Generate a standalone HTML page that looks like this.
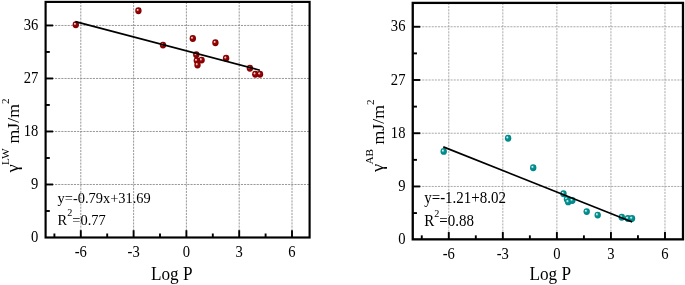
<!DOCTYPE html>
<html><head><meta charset="utf-8"><title>Surface energy vs Log P</title>
<style>
html,body{margin:0;padding:0;background:#fff;}
svg{display:block;}
text{font-family:"Liberation Serif", "Times New Roman", serif;fill:#000;}
.g{stroke-width:0.9;stroke-dasharray:2.1 1.05;}
.t{stroke:#000;stroke-width:1.9;}
.tl{font-size:17px;}
.al{font-size:18.8px;}
.yl{font-size:18.3px;}
.an{font-size:15.6px;}
.sup{font-size:11px;}
.sup2{font-size:11px;}
</style></head><body>
<svg width="685" height="285" viewBox="0 0 685 285">
<defs>
<radialGradient id="gr" cx="0.5" cy="0.5" r="0.6" fx="0.33" fy="0.34">
<stop offset="0" stop-color="#fff0f0"/><stop offset="0.16" stop-color="#dca8a8"/><stop offset="0.36" stop-color="#960808"/><stop offset="0.6" stop-color="#8b0000"/><stop offset="1" stop-color="#800000"/>
</radialGradient>
<radialGradient id="gt" cx="0.5" cy="0.5" r="0.6" fx="0.33" fy="0.34">
<stop offset="0" stop-color="#f0ffff"/><stop offset="0.16" stop-color="#a8dcdc"/><stop offset="0.36" stop-color="#089696"/><stop offset="0.6" stop-color="#008b8b"/><stop offset="1" stop-color="#008080"/>
</radialGradient>
</defs>
<rect width="685" height="285" fill="#fff"/>
<line class="g" stroke="#8c8c8c" x1="80.80" y1="1.90" x2="80.80" y2="237.50"/>
<line class="g" stroke="#8c8c8c" x1="133.60" y1="1.90" x2="133.60" y2="237.50"/>
<line class="g" stroke="#8c8c8c" x1="186.40" y1="1.90" x2="186.40" y2="237.50"/>
<line class="g" stroke="#8c8c8c" x1="239.20" y1="1.90" x2="239.20" y2="237.50"/>
<line class="g" stroke="#8c8c8c" x1="292.00" y1="1.90" x2="292.00" y2="237.50"/>
<line class="g" stroke="#8c8c8c" x1="45.60" y1="184.49" x2="309.60" y2="184.49"/>
<line class="g" stroke="#8c8c8c" x1="45.60" y1="131.48" x2="309.60" y2="131.48"/>
<line class="g" stroke="#8c8c8c" x1="45.60" y1="78.47" x2="309.60" y2="78.47"/>
<line class="g" stroke="#8c8c8c" x1="45.60" y1="25.46" x2="309.60" y2="25.46"/>
<ellipse cx="75.8" cy="24.7" rx="3.2" ry="3.45" fill="url(#gr)"/>
<ellipse cx="138.4" cy="10.7" rx="3.2" ry="3.45" fill="url(#gr)"/>
<ellipse cx="163" cy="45.1" rx="3.2" ry="3.45" fill="url(#gr)"/>
<ellipse cx="192.8" cy="38.5" rx="3.2" ry="3.45" fill="url(#gr)"/>
<ellipse cx="215.4" cy="42.7" rx="3.2" ry="3.45" fill="url(#gr)"/>
<ellipse cx="196.3" cy="54.8" rx="3.2" ry="3.45" fill="url(#gr)"/>
<ellipse cx="201.6" cy="60.1" rx="3.2" ry="3.45" fill="url(#gr)"/>
<ellipse cx="196.8" cy="60.6" rx="3.2" ry="3.45" fill="url(#gr)"/>
<ellipse cx="197.5" cy="65.0" rx="3.2" ry="3.45" fill="url(#gr)"/>
<ellipse cx="226.1" cy="58.3" rx="3.2" ry="3.45" fill="url(#gr)"/>
<ellipse cx="249.9" cy="68.2" rx="3.2" ry="3.45" fill="url(#gr)"/>
<ellipse cx="255.3" cy="74.2" rx="3.2" ry="3.45" fill="url(#gr)"/>
<ellipse cx="260.0" cy="74.2" rx="3.2" ry="3.45" fill="url(#gr)"/>
<line x1="75.4" y1="21.6" x2="259.9" y2="70.2" stroke="#000" stroke-width="1.7"/>
<line class="t" x1="80.80" y1="237.50" x2="80.80" y2="230.20"/>
<line class="t" x1="133.60" y1="237.50" x2="133.60" y2="230.20"/>
<line class="t" x1="186.40" y1="237.50" x2="186.40" y2="230.20"/>
<line class="t" x1="239.20" y1="237.50" x2="239.20" y2="230.20"/>
<line class="t" x1="292.00" y1="237.50" x2="292.00" y2="230.20"/>
<line class="t" x1="54.40" y1="237.50" x2="54.40" y2="233.50"/>
<line class="t" x1="107.20" y1="237.50" x2="107.20" y2="233.50"/>
<line class="t" x1="160.00" y1="237.50" x2="160.00" y2="233.50"/>
<line class="t" x1="212.80" y1="237.50" x2="212.80" y2="233.50"/>
<line class="t" x1="265.60" y1="237.50" x2="265.60" y2="233.50"/>
<line class="t" x1="45.60" y1="184.49" x2="53.10" y2="184.49"/>
<line class="t" x1="45.60" y1="131.48" x2="53.10" y2="131.48"/>
<line class="t" x1="45.60" y1="78.47" x2="53.10" y2="78.47"/>
<line class="t" x1="45.60" y1="25.46" x2="53.10" y2="25.46"/>
<line class="t" x1="45.60" y1="211.00" x2="49.80" y2="211.00"/>
<line class="t" x1="45.60" y1="157.99" x2="49.80" y2="157.99"/>
<line class="t" x1="45.60" y1="104.97" x2="49.80" y2="104.97"/>
<line class="t" x1="45.60" y1="51.97" x2="49.80" y2="51.97"/>
<rect x="45.60" y="1.90" width="264.00" height="235.60" fill="none" stroke="#000" stroke-width="2.15"/>
<text class="tl" text-anchor="middle" transform="translate(80.80,257.00) scale(0.86,1)">-6</text>
<text class="tl" text-anchor="middle" transform="translate(133.60,257.00) scale(0.86,1)">-3</text>
<text class="tl" text-anchor="middle" transform="translate(186.40,257.00) scale(0.86,1)">0</text>
<text class="tl" text-anchor="middle" transform="translate(239.20,257.00) scale(0.86,1)">3</text>
<text class="tl" text-anchor="middle" transform="translate(292.00,257.00) scale(0.86,1)">6</text>
<text class="tl" text-anchor="end" transform="translate(38.30,242.20) scale(0.86,1)">0</text>
<text class="tl" text-anchor="end" transform="translate(38.30,189.19) scale(0.86,1)">9</text>
<text class="tl" text-anchor="end" transform="translate(38.30,136.18) scale(0.86,1)">18</text>
<text class="tl" text-anchor="end" transform="translate(38.30,83.17) scale(0.86,1)">27</text>
<text class="tl" text-anchor="end" transform="translate(38.30,30.16) scale(0.86,1)">36</text>
<text class="al" text-anchor="middle" transform="translate(171.8,280.3) scale(0.915,1)">Log P</text>
<text style="font-size:17.0px" transform="translate(18.10,172.40) rotate(-90) scale(1.1,1)">&#947;</text>
<text style="font-size:11.3px" transform="translate(9.20,165.00) rotate(-90)">LW</text>
<text style="font-size:17.7px" transform="translate(19.00,143.40) rotate(-90)">mJ/m</text>
<text style="font-size:11px" transform="translate(9.20,104.10) rotate(-90)">2</text>
<text class="an" style="font-size:15.6px" transform="translate(57.6,202.6) scale(0.925,1)">y=-0.79x+31.69</text>
<text class="an" style="font-size:15.6px" transform="translate(57.6,224.6) scale(0.925,1)">R<tspan class="sup2" dy="-8.5">2</tspan><tspan dy="8.5">=0.77</tspan></text>
<line class="g" stroke="#a2a2a2" x1="448.78" y1="2.90" x2="448.78" y2="239.35"/>
<line class="g" stroke="#a2a2a2" x1="502.83" y1="2.90" x2="502.83" y2="239.35"/>
<line class="g" stroke="#a2a2a2" x1="556.88" y1="2.90" x2="556.88" y2="239.35"/>
<line class="g" stroke="#a2a2a2" x1="610.93" y1="2.90" x2="610.93" y2="239.35"/>
<line class="g" stroke="#a2a2a2" x1="664.98" y1="2.90" x2="664.98" y2="239.35"/>
<line class="g" stroke="#a2a2a2" x1="412.75" y1="186.46" x2="683.00" y2="186.46"/>
<line class="g" stroke="#a2a2a2" x1="412.75" y1="133.23" x2="683.00" y2="133.23"/>
<line class="g" stroke="#a2a2a2" x1="412.75" y1="79.99" x2="683.00" y2="79.99"/>
<line class="g" stroke="#a2a2a2" x1="412.75" y1="26.76" x2="683.00" y2="26.76"/>
<ellipse cx="443.7" cy="151.4" rx="3.2" ry="3.45" fill="url(#gt)"/>
<ellipse cx="508.1" cy="138.2" rx="3.2" ry="3.45" fill="url(#gt)"/>
<ellipse cx="533.2" cy="167.7" rx="3.2" ry="3.45" fill="url(#gt)"/>
<ellipse cx="563.5" cy="193.7" rx="3.2" ry="3.45" fill="url(#gt)"/>
<ellipse cx="567" cy="199.3" rx="3.2" ry="3.45" fill="url(#gt)"/>
<ellipse cx="568.2" cy="201.9" rx="3.2" ry="3.45" fill="url(#gt)"/>
<ellipse cx="572.3" cy="200.5" rx="3.2" ry="3.45" fill="url(#gt)"/>
<ellipse cx="586.7" cy="211.6" rx="3.2" ry="3.45" fill="url(#gt)"/>
<ellipse cx="597.7" cy="215.1" rx="3.2" ry="3.45" fill="url(#gt)"/>
<ellipse cx="621.8" cy="217.2" rx="3.2" ry="3.45" fill="url(#gt)"/>
<ellipse cx="627.9" cy="218.5" rx="3.2" ry="3.45" fill="url(#gt)"/>
<ellipse cx="632.0" cy="218.5" rx="3.2" ry="3.45" fill="url(#gt)"/>
<line x1="443.3" y1="146.9" x2="632.2" y2="222.0" stroke="#000" stroke-width="1.7"/>
<line class="t" x1="448.78" y1="239.35" x2="448.78" y2="232.05"/>
<line class="t" x1="502.83" y1="239.35" x2="502.83" y2="232.05"/>
<line class="t" x1="556.88" y1="239.35" x2="556.88" y2="232.05"/>
<line class="t" x1="610.93" y1="239.35" x2="610.93" y2="232.05"/>
<line class="t" x1="664.98" y1="239.35" x2="664.98" y2="232.05"/>
<line class="t" x1="421.76" y1="239.35" x2="421.76" y2="235.35"/>
<line class="t" x1="475.81" y1="239.35" x2="475.81" y2="235.35"/>
<line class="t" x1="529.86" y1="239.35" x2="529.86" y2="235.35"/>
<line class="t" x1="583.91" y1="239.35" x2="583.91" y2="235.35"/>
<line class="t" x1="637.96" y1="239.35" x2="637.96" y2="235.35"/>
<line class="t" x1="412.75" y1="186.46" x2="420.25" y2="186.46"/>
<line class="t" x1="412.75" y1="133.23" x2="420.25" y2="133.23"/>
<line class="t" x1="412.75" y1="79.99" x2="420.25" y2="79.99"/>
<line class="t" x1="412.75" y1="26.76" x2="420.25" y2="26.76"/>
<line class="t" x1="412.75" y1="213.08" x2="416.95" y2="213.08"/>
<line class="t" x1="412.75" y1="159.85" x2="416.95" y2="159.85"/>
<line class="t" x1="412.75" y1="106.61" x2="416.95" y2="106.61"/>
<line class="t" x1="412.75" y1="53.38" x2="416.95" y2="53.38"/>
<rect x="412.75" y="2.90" width="270.25" height="236.45" fill="none" stroke="#000" stroke-width="2.3"/>
<text class="tl" text-anchor="middle" transform="translate(448.78,258.65) scale(0.86,1)">-6</text>
<text class="tl" text-anchor="middle" transform="translate(502.83,258.65) scale(0.86,1)">-3</text>
<text class="tl" text-anchor="middle" transform="translate(556.88,258.65) scale(0.86,1)">0</text>
<text class="tl" text-anchor="middle" transform="translate(610.93,258.65) scale(0.86,1)">3</text>
<text class="tl" text-anchor="middle" transform="translate(664.98,258.65) scale(0.86,1)">6</text>
<text class="tl" text-anchor="end" transform="translate(405.45,244.40) scale(0.86,1)">0</text>
<text class="tl" text-anchor="end" transform="translate(405.45,191.16) scale(0.86,1)">9</text>
<text class="tl" text-anchor="end" transform="translate(405.45,137.93) scale(0.86,1)">18</text>
<text class="tl" text-anchor="end" transform="translate(405.45,84.69) scale(0.86,1)">27</text>
<text class="tl" text-anchor="end" transform="translate(405.45,31.46) scale(0.86,1)">36</text>
<text class="al" text-anchor="middle" transform="translate(550.2,280.1) scale(0.915,1)">Log P</text>
<text style="font-size:17.0px" transform="translate(382.80,172.00) rotate(-90) scale(1.1,1)">&#947;</text>
<text style="font-size:11.3px" transform="translate(372.80,164.60) rotate(-90)">AB</text>
<text style="font-size:17.7px" transform="translate(383.70,144.40) rotate(-90)">mJ/m</text>
<text style="font-size:11px" transform="translate(373.90,105.10) rotate(-90)">2</text>
<text class="an" style="font-size:16.2px" transform="translate(424.2,203) scale(0.925,1)">y=-1.21+8.02</text>
<text class="an" style="font-size:16.2px" transform="translate(424.2,225.5) scale(0.925,1)">R<tspan class="sup2" dy="-8.5">2</tspan><tspan dy="8.5">=0.88</tspan></text>
</svg>
</body></html>
